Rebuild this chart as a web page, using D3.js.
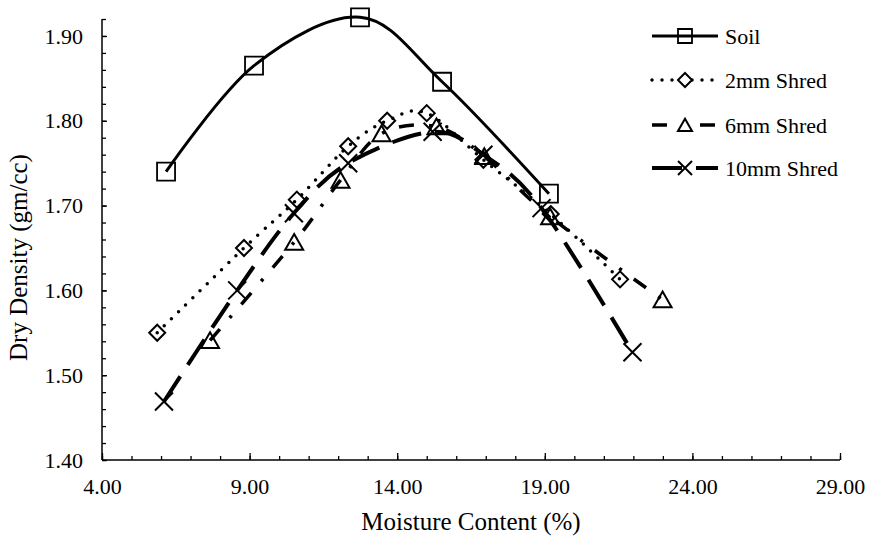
<!DOCTYPE html>
<html>
<head>
<meta charset="utf-8">
<script src="https://cdn.jsdelivr.net/npm/d3@7"></script>
<style>
  body { margin: 0; background: #fff; }
  svg { display: block; font-family: "Liberation Serif", "Times New Roman", serif; }
</style>
</head>
<body>
<svg id="chart" width="869" height="536"></svg>
<script>
// moisture content (%) / dry density (gm/cc)
const seriesNames = ['Soil', '2mm Shred', '6mm Shred', '10mm Shred'];

const soilX = [6.17, 9.15, 12.74, 15.52, 19.14];
const soilY = [1.740, 1.865, 1.922, 1.846, 1.714];

const shred2X = [5.87, 8.81, 10.60, 12.34, 13.66, 15.00, 16.92, 19.20, 21.55];
const shred2Y = [1.550, 1.650, 1.707, 1.770, 1.800, 1.809, 1.754, 1.690, 1.613];

const shred6X = [7.66, 10.51, 12.08, 13.47, 15.33, 16.95, 19.18, 22.99];
const shred6Y = [1.541, 1.657, 1.730, 1.785, 1.793, 1.758, 1.687, 1.589];

const shred10X = [6.10, 8.58, 10.50, 12.34, 15.20, 16.92, 18.89, 21.97];
const shred10Y = [1.469, 1.600, 1.691, 1.750, 1.787, 1.760, 1.697, 1.527];

const xTicks = [4, 9, 14, 19, 24, 29];
const yTicks = [1.40, 1.50, 1.60, 1.70, 1.80, 1.90];

const svg = d3.select('#chart');
const margin = {left: 102, right: 29, top: 19, bottom: 76};
const W = 869, H = 536;

const x = d3.scaleLinear().domain([4, 29]).range([margin.left, W - margin.right]);
const y = d3.scaleLinear().domain([1.40, 1.92]).range([H - margin.bottom, margin.top]);

// marker shapes
function marker(type, s) {
    const h = s / 2;
    if (type === 'square') return `M${-h},${-h}H${h}V${h}H${-h}Z`;
    if (type === 'diamond') return `M0,${-h}L${h},0L0,${h}L${-h},0Z`;
    if (type === 'triangle') return `M0,${-h * 0.9}L${h},${h * 0.85}L${-h},${h * 0.85}Z`;
    return `M${-h},${-h}L${h},${h}M${h},${-h}L${-h},${h}`;
}

const series = [
    {name: seriesNames[0], xs: soilX, ys: soilY, shape: 'square', size: 18, ms: 1.8, width: 3, dash: null, cap: 'butt'},
    {name: seriesNames[1], xs: shred2X, ys: shred2Y, shape: 'diamond', size: 16, ms: 2, width: 3.5, dash: '0 10', cap: 'round'},
    {name: seriesNames[2], xs: shred6X, ys: shred6Y, shape: 'triangle', size: 18, ms: 2, width: 3.5, dash: '15 15 3 15', cap: 'butt'},
    {name: seriesNames[3], xs: shred10X, ys: shred10Y, shape: 'x', size: 18, ms: 2, width: 4, dash: '30 14', cap: 'butt'}
];

// axes: minor ticks
svg.append('g')
    .attr('transform', `translate(0,${y(1.40)})`)
    .call(d3.axisBottom(x).tickValues(d3.range(4, 29.5, 1)).tickSize(-4).tickFormat(''))
    .call(g => g.select('.domain').remove());

svg.append('g')
    .attr('transform', `translate(${x(4)},0)`)
    .call(d3.axisLeft(y).tickValues(d3.range(0, 27).map(i => 1.40 + i * 0.02)).tickSize(-4).tickFormat(''))
    .call(g => g.select('.domain').remove());

// axes: major ticks with labels
const xAxis = svg.append('g')
    .attr('transform', `translate(0,${y(1.40)})`)
    .call(d3.axisBottom(x).tickValues(xTicks).tickSize(-7).tickSizeOuter(0).tickPadding(18).tickFormat(d => d.toFixed(2)));

const yAxis = svg.append('g')
    .attr('transform', `translate(${x(4)},0)`)
    .call(d3.axisLeft(y).tickValues(yTicks).tickSize(-5).tickSizeOuter(0).tickPadding(19).tickFormat(d => d.toFixed(2)));

svg.selectAll('.tick line').attr('stroke', '#000').attr('stroke-width', 1.3);
[xAxis, yAxis].forEach(a => {
    a.select('.domain').attr('stroke', '#000').attr('stroke-width', 1.5);
    a.selectAll('text').attr('font-size', 22).attr('fill', '#000').attr('font-family', '"Liberation Serif", "Times New Roman", serif');
});
xAxis.select('.domain').attr('d', `M${x(4)},0H${x(29)}`);
yAxis.select('.domain').attr('d', `M0,${y(1.92)}V${y(1.40)}`);

// axis titles
svg.append('text')
    .attr('x', (x(4) + x(29)) / 2)
    .attr('y', 530)
    .attr('text-anchor', 'middle')
    .attr('font-size', 25)
    .text('Moisture Content (%)');

svg.append('text')
    .attr('transform', `translate(27,${(y(1.40) + y(1.92)) / 2 + 18}) rotate(-90)`)
    .attr('text-anchor', 'middle')
    .attr('font-size', 25)
    .text('Dry Density (gm/cc)');

// lines
const line = d3.line()
    .x(d => x(d[0]))
    .y(d => y(d[1]))
    .curve(d3.curveCardinal.tension(0));

const plot = svg.append('g');

series.forEach(s => {
    const pts = s.xs.map((v, i) => [v, s.ys[i]]);
    plot.append('path')
        .datum(pts)
        .attr('d', line)
        .attr('fill', 'none')
        .attr('stroke', '#000')
        .attr('stroke-width', s.width)
        .attr('stroke-linecap', s.cap)
        .attr('stroke-dasharray', s.dash);
});

series.forEach(s => {
    const pts = s.xs.map((v, i) => [v, s.ys[i]]);
    plot.selectAll(null)
        .data(pts)
        .enter()
        .append('path')
        .attr('transform', d => `translate(${x(d[0])},${y(d[1])})`)
        .attr('d', marker(s.shape, s.size))
        .attr('fill', 'none')
        .attr('stroke', '#000')
        .attr('stroke-width', s.ms);
});

// legend
const legend = svg.append('g');
const rowY = [36, 80, 125, 168];

series.forEach((s, i) => {
    const g = legend.append('g').attr('transform', `translate(0,${rowY[i]})`);
    g.append('path')
        .attr('d', 'M652,0H718')
        .attr('fill', 'none')
        .attr('stroke', '#000')
        .attr('stroke-width', s.width)
        .attr('stroke-linecap', s.cap)
        .attr('stroke-dasharray', s.dash);
    g.append('path')
        .attr('transform', 'translate(685,0)')
        .attr('d', marker(s.shape, 14))
        .attr('fill', i === 0 ? 'none' : '#fff')
        .attr('stroke', '#000')
        .attr('stroke-width', s.ms);
    g.append('text')
        .attr('x', 725)
        .attr('y', 8)
        .attr('font-size', 22)
        .text(s.name);
});
</script>
</body>
</html>
